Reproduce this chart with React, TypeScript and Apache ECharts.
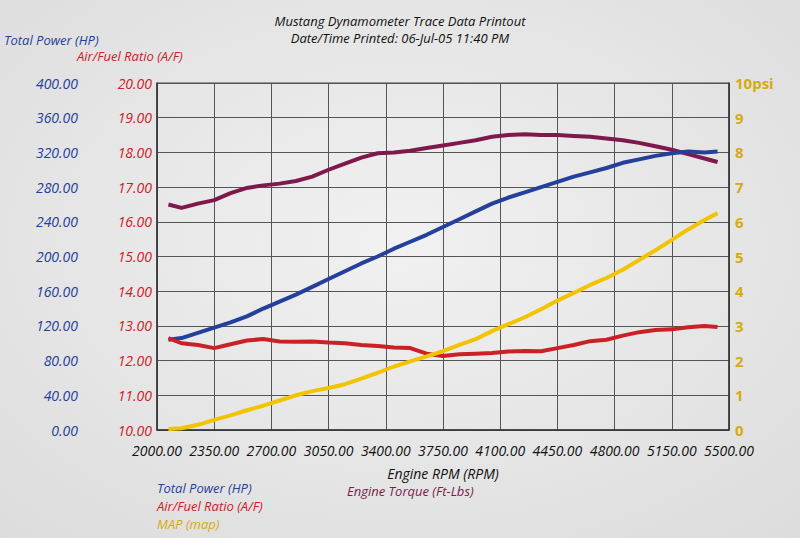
import React, { useEffect, useRef } from "react";
import * as echarts from "echarts";

const RPM = [2070, 2150, 2250, 2350, 2450, 2550, 2650, 2750, 2850, 2950, 3050, 3150, 3250, 3350, 3450, 3550, 3650, 3750, 3850, 3950, 4050, 4150, 4250, 4350, 4450, 4550, 4650, 4750, 4850, 4950, 5050, 5150, 5250, 5350, 5430];
const POWER_HP = [104, 106, 112, 118, 124, 131, 140, 148, 156, 165, 174, 183, 192, 200, 209, 217, 225, 234, 243, 252, 261, 268, 274, 280, 286, 292, 297, 302, 308, 312, 316, 319, 321, 320, 321];
const TORQUE_FTLBS = [260, 256, 261, 265, 273, 279, 282, 284, 287, 292, 300, 307, 314, 319, 320, 322, 325, 328, 331, 334, 338, 340, 341, 340, 340, 339, 338, 336, 334, 331, 327, 323, 318, 313, 309];
const AIR_FUEL = [12.65, 12.5, 12.45, 12.36, 12.47, 12.58, 12.62, 12.55, 12.54, 12.55, 12.52, 12.5, 12.45, 12.42, 12.38, 12.36, 12.2, 12.13, 12.18, 12.2, 12.22, 12.26, 12.28, 12.27, 12.36, 12.45, 12.56, 12.6, 12.72, 12.82, 12.88, 12.9, 12.96, 13.0, 12.97];
const MAP_PSI = [0.03, 0.05, 0.15, 0.29, 0.42, 0.57, 0.7, 0.85, 1.0, 1.12, 1.21, 1.32, 1.48, 1.65, 1.83, 1.98, 2.12, 2.27, 2.45, 2.62, 2.85, 3.05, 3.25, 3.48, 3.73, 3.95, 4.18, 4.38, 4.62, 4.9, 5.18, 5.48, 5.78, 6.05, 6.25];

const TITLE_LINES = ["Mustang Dynamometer Trace Data Printout", "Date/Time Printed: 06-Jul-05 11:40 PM"];

const FONT = "'Comic Sans MS', 'Open Sans', sans-serif";
const BLUE = "#25409a";
const RED = "#cc2027";
const PURPLE = "#7d1a4b";
const GOLD = "#f2c400";
const GOLD_TEXT = "#d8aa10";

const pairs = (ys: number[]) => RPM.map((x, i) => [x, ys[i]]);

export default function App() {
  const ref = useRef<HTMLDivElement>(null);
  useEffect(() => {
    document.body.style.margin = "0";
    const chart = echarts.init(ref.current!, null, { renderer: "svg" });
    const labelBase = { fontFamily: FONT, fontStyle: "italic" as const, fontSize: 14 };
    chart.setOption({
      animation: false,
      backgroundColor: {
        type: "radial",
        x: 0.5,
        y: 0.45,
        r: 0.75,
        colorStops: [
          { offset: 0, color: "#f1f1f1" },
          { offset: 1, color: "#dcdcdc" },
        ],
      },
      title: {
        text: TITLE_LINES.join("\n"),
        left: "center",
        top: 7,
        textStyle: { ...labelBase, fontSize: 13, fontWeight: "normal", color: "#111", lineHeight: 17 },
      },
      grid: { left: 157, right: 71, top: 83, bottom: 108, show: true, borderColor: "#444", borderWidth: 1 },
      xAxis: {
        type: "value",
        min: 2000,
        max: 5500,
        interval: 350,
        name: "Engine RPM (RPM)",
        nameLocation: "middle",
        nameGap: 36,
        nameTextStyle: { ...labelBase, color: "#111" },
        axisLine: { lineStyle: { color: "#333", width: 1.5 } },
        axisTick: { show: false },
        axisLabel: { ...labelBase, color: "#111", margin: 13, formatter: (v: number) => v.toFixed(2) },
        splitLine: { show: true, lineStyle: { color: "#555", width: 1 } },
      },
      yAxis: [
        {
          type: "value",
          position: "left",
          min: 10,
          max: 20,
          interval: 1,
          axisLine: { show: true, lineStyle: { color: "#333", width: 1.5 } },
          axisTick: { show: false },
          axisLabel: { ...labelBase, color: RED, margin: 5, formatter: (v: number) => v.toFixed(2) },
          splitLine: { show: true, lineStyle: { color: "#555", width: 1 } },
        },
        {
          type: "value",
          position: "left",
          offset: 73,
          min: 0,
          max: 400,
          interval: 40,
          axisLine: { show: false },
          axisTick: { show: false },
          axisLabel: { ...labelBase, color: BLUE, margin: 6, formatter: (v: number) => v.toFixed(2) },
          splitLine: { show: false },
        },
        {
          type: "value",
          position: "right",
          min: 0,
          max: 10,
          interval: 1,
          axisLine: { show: true, lineStyle: { color: "#333", width: 1.5 } },
          axisTick: { show: false },
          axisLabel: {
            ...labelBase,
            fontStyle: "normal",
            fontWeight: "bold",
            fontSize: 15,
            color: GOLD_TEXT,
            margin: 6,
            formatter: (v: number) => (v === 10 ? "10psi" : String(v)),
          },
          splitLine: { show: false },
        },
      ],
      legend: [
        {
          orient: "vertical",
          left: 152,
          top: 480,
          icon: "none",
          itemWidth: 0,
          itemHeight: 15,
          itemGap: 3,
          padding: 0,
          selectedMode: false,
          textStyle: { ...labelBase, fontSize: 13, lineHeight: 15 },
          data: [
            { name: "Total Power (HP)", textStyle: { color: BLUE } },
            { name: "Air/Fuel Ratio (A/F)", textStyle: { color: RED } },
            { name: "MAP (map)", textStyle: { color: GOLD_TEXT } },
          ],
        },
        {
          left: 342,
          top: 483,
          icon: "none",
          itemWidth: 0,
          padding: 0,
          selectedMode: false,
          textStyle: { ...labelBase, fontSize: 13, lineHeight: 15 },
          data: [{ name: "Engine Torque (Ft-Lbs)", textStyle: { color: PURPLE } }],
        },
      ],
      graphic: [
        { type: "text", left: 4, top: 33, style: { text: "Total Power (HP)", fill: BLUE, font: `italic 13px ${FONT}` } },
        { type: "text", left: 77, top: 49, style: { text: "Air/Fuel Ratio (A/F)", fill: RED, font: `italic 13px ${FONT}` } },
      ],
      series: [
        {
          name: "Engine Torque (Ft-Lbs)",
          type: "line",
          yAxisIndex: 1,
          data: pairs(TORQUE_FTLBS),
          showSymbol: false,
          lineStyle: { color: PURPLE, width: 4 },
          itemStyle: { color: PURPLE },
        },
        {
          name: "Total Power (HP)",
          type: "line",
          yAxisIndex: 1,
          data: pairs(POWER_HP),
          showSymbol: false,
          lineStyle: { color: BLUE, width: 4 },
          itemStyle: { color: BLUE },
        },
        {
          name: "Air/Fuel Ratio (A/F)",
          type: "line",
          yAxisIndex: 0,
          data: pairs(AIR_FUEL),
          showSymbol: false,
          lineStyle: { color: RED, width: 4 },
          itemStyle: { color: RED },
        },
        {
          name: "MAP (map)",
          type: "line",
          yAxisIndex: 2,
          data: pairs(MAP_PSI),
          showSymbol: false,
          lineStyle: { color: GOLD, width: 4 },
          itemStyle: { color: GOLD },
        },
      ],
    });
    return () => chart.dispose();
  }, []);
  return <div ref={ref} style={{ width: 800, height: 538 }} />;
}
